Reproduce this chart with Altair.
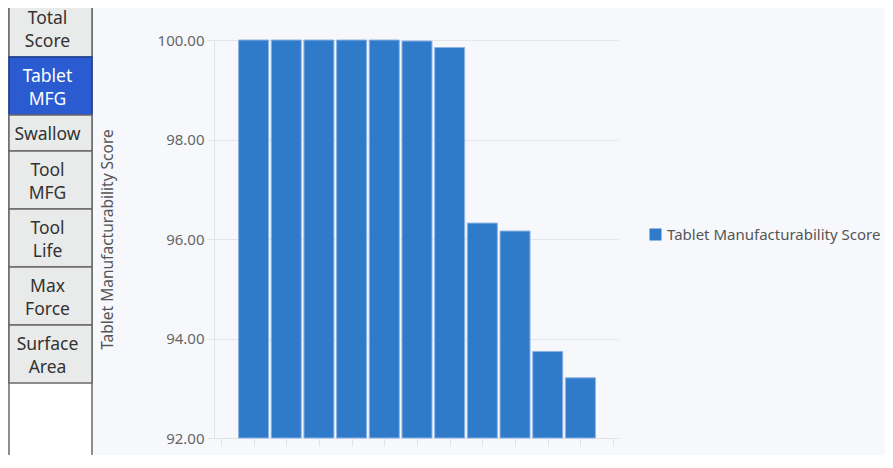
import altair as alt
import pandas as pd

# ---- data ----
bar_index = [1, 2, 3, 4, 5, 6, 7, 8, 9, 10, 11]
bar_scores = [100.0, 100.0, 100.0, 100.0, 100.0, 99.98, 99.85, 96.32, 96.16, 93.74, 93.21]
series_name = "Tablet Manufacturability Score"
y_ticks = [92, 94, 96, 98, 100]
x_ticks = list(range(13))

button_labels = ["Total\nScore", "Tablet\nMFG", "Swallow", "Tool\nMFG", "Tool\nLife", "Max\nForce", "Surface\nArea"]
selected_button = "Tablet\nMFG"

FONT = "Noto Sans"
W, H = 404, 398
BG = "#f7f8fc"
BAR = "#2f7bca"

# ---- button panel geometry (pixel-space layers) ----
PX0, PX1 = -205, -122
LINE_H = 23
btn_rows, txt_rows = [], []
top = -41.0
for lab in button_labels:
    lines = lab.split("\n")
    h = 36 if len(lines) == 1 else 58
    sel = lab == selected_button
    btn_rows.append({"x0": PX0, "x1": PX1, "y0": top, "y1": top + h,
                     "fill": "#2a5bd0" if sel else "#e9eaea",
                     "stroke": "#1e3f92" if sel else "#6a6a6a"})
    c = top + h / 2
    n = len(lines)
    for i, ln in enumerate(lines):
        txt_rows.append({"x": -166.5, "y": c + (i - (n - 1) / 2) * LINE_H, "t": ln,
                         "col": "#ffffff" if sel else "#333333"})
    top += h

btn_df = pd.DataFrame(btn_rows)
txt_df = pd.DataFrame(txt_rows)
panel_df = pd.DataFrame([{"x0": PX0, "x1": PX1, "y0": -41, "y1": 430}])

px_x = alt.Scale(domain=[0, W], nice=False, zero=False, padding=0)
px_y = alt.Scale(domain=[0, H], nice=False, zero=False, reverse=True, padding=0)

panel = alt.Chart(panel_df).mark_rect(fill="white", stroke="#6a6a6a", strokeWidth=1.5).encode(
    x=alt.X("x0:Q", scale=px_x, axis=None), x2="x1:Q",
    y=alt.Y("y0:Q", scale=px_y, axis=None), y2="y1:Q",
)
buttons = alt.Chart(btn_df).mark_rect(strokeWidth=1.5).encode(
    x=alt.X("x0:Q", scale=px_x, axis=None), x2="x1:Q",
    y=alt.Y("y0:Q", scale=px_y, axis=None), y2="y1:Q",
    fill=alt.Fill("fill:N", scale=None),
    stroke=alt.Stroke("stroke:N", scale=None),
)
texts = alt.Chart(txt_df).mark_text(font=FONT, fontSize=17.5, align="center",
                                    baseline="middle", dy=2).encode(
    x=alt.X("x:Q", scale=px_x, axis=None),
    y=alt.Y("y:Q", scale=px_y, axis=None),
    text="t:N",
    color=alt.Color("col:N", scale=None),
)

# ---- bar chart ----
df = pd.DataFrame({"idx": bar_index, "score": bar_scores, "series": [series_name] * len(bar_index)})

bars = alt.Chart(df).mark_bar(size=30, stroke="#8db3e6", strokeWidth=1).encode(
    x=alt.X("idx:Q",
            scale=alt.Scale(domain=[-0.21, 12.15], nice=False, zero=False, padding=0),
            axis=alt.Axis(values=x_ticks, labels=False, title=None, grid=False,
                          domainColor="#e2e3e8", tickColor="#e2e3e8", tickSize=8)),
    y=alt.Y("score:Q",
            scale=alt.Scale(domain=[92, 100], nice=False, zero=False, padding=0),
            axis=alt.Axis(values=y_ticks, format=".2f", title=series_name,
                          grid=True, gridColor="#e4e5ea", domainColor="#e2e3e8",
                          tickColor="#e2e3e8", tickSize=7, labelPadding=3,
                          labelFont=FONT, labelFontSize=15, labelColor="#666666",
                          titleFont=FONT, titleFontSize=15.5, titleColor="#555555",
                          titleFontWeight="normal", titleX=-99, titleY=199)),
    y2=alt.datum(92),
    color=alt.Color("series:N", scale=alt.Scale(range=[BAR]),
                    legend=alt.Legend(title=None, orient="none", legendX=434, legendY=187,
                                      symbolType="square", symbolSize=144, symbolStrokeWidth=0,
                                      labelFont=FONT, labelFontSize=15, labelColor="#555555",
                                      labelOffset=4, labelLimit=0)),
)

chart = alt.layer(panel, buttons, texts, bars).resolve_scale(
    x="independent", y="independent"
).properties(
    width=W, height=H,
    background=BG,
    autosize=alt.AutoSizeParams(type="none"),
    padding={"left": 206, "top": 32, "right": 267, "bottom": 17},
).configure_view(stroke=None)

chart.save("out.html", embed_options={"renderer": "svg", "actions": False})
